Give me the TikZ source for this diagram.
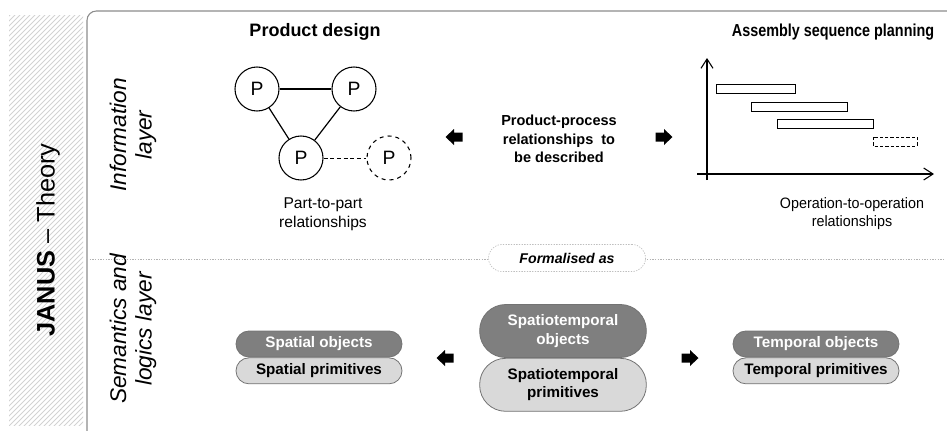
\documentclass[tikz,border=0pt]{standalone}
\usepackage{fontspec}
\setmainfont{Liberation Sans}
\usepackage{tikz}
\usetikzlibrary{positioning,arrows.meta}
\usepackage{xcolor}
\definecolor{framegrey}{HTML}{8C8C8C}
\definecolor{hatchgrey}{HTML}{D2D2D2}
\definecolor{objgrey}{HTML}{7F7F7F}
\definecolor{primgrey}{HTML}{D9D9D9}

\begin{document}
\begin{tikzpicture}[x=0.75pt,y=-0.75pt,>={Straight Barb[length=7pt,width=9pt]},
  heading/.style={font=\bfseries\fontsize{13.5}{16}\selectfont},
  plaintext/.style={align=center,font=\fontsize{11.7}{14}\selectfont},
  layer/.style={rotate=90,align=center,font=\itshape\fontsize{17}{19}\selectfont},
  part/.style={circle,draw,line width=0.8pt,minimum size=33pt,inner sep=0pt,
    font=\fontsize{14.5}{16}\selectfont},
  blockarr/.pic={\fill (-8.5,-4.5) -- (0,-4.5) -- (0,-8) -- (8.5,0) -- (0,8) -- (0,4.5) -- (-8.5,4.5) -- cycle;},
  pill/.style={draw=black!55,line width=0.6pt,minimum width=124.5pt,minimum height=19.5pt,
    rounded corners=9.7pt,inner sep=0pt,align=center,font=\bfseries\fontsize{11.4}{13.7}\selectfont},
  objpill/.style={pill,fill=objgrey,text=white},
  primpill/.style={pill,fill=primgrey},
  bigpill/.style={minimum width=125pt,minimum height=39.75pt,rounded corners=19.5pt}]
\useasboundingbox (0,0) rectangle (947,430);
\clip (0,0) rectangle (947,430);

% left band
\begin{scope}
\clip (9,15) rectangle (83,425);
\foreach \k in {-90,-85,...,430}
  \draw[hatchgrey,line width=0.7pt] (0,\k+90) -- (90,\k);
\end{scope}
\node[rotate=90,font=\fontsize{19}{22}\selectfont] (janus) at (48,240) {\textbf{JANUS} -- Theory};

% frame and separator
\draw[framegrey,line width=0.8pt,rounded corners=7pt] (960,11) -- (87,11) -- (87,445);
\draw[black!30,line width=0.4pt,dash pattern=on 1pt off 1pt] (87,259) -- (945,259);

\node[layer] (info) at (133,135) {Information\\layer};
\node[layer] (sem) at (133,329) {Semantics and\\logics layer};

% information layer
\node[heading] (pdes) at (315,32) {Product design};
\node[heading,font=\bfseries\fontsize{13}{15}\selectfont] (asp) at (833,32)
  {\scalebox{0.83}[1]{Assembly sequence planning}};

\node[part] (p1) at (257,89) {P};
\node[part] (p2) at (354,89) {P};
\node[part] (p3) at (301,158) {P};
\node[part,dashed] (p4) at (389,158) {P};
\draw[line width=0.9pt] (p1) -- (p2);
\draw[line width=0.9pt] (p1) -- (p3);
\draw[line width=0.9pt] (p2) -- (p3);
\draw[line width=0.7pt,dash pattern=on 3pt off 2pt] (p3) -- (p4);
\node[plaintext] (ptp) at (323,214) {Part-to-part\\relationships};

\node[align=center,font=\bfseries\fontsize{10.9}{14}\selectfont] (ppr) at (559,139)
  {Product-process\\relationships~ to\\be described};
\pic[rotate=180] (la) at (454,137) {blockarr};
\pic (ra) at (664,137) {blockarr};

\coordinate (yax) at (707,58);
\coordinate (xax) at (934,174);
\draw[line width=0.8pt,->] (707,180) -- (yax);
\draw[line width=0.8pt,->] (697,174) -- (xax);
\draw[line width=0.6pt] (716,84) rectangle (795,93);
\draw[line width=0.6pt] (751,102) rectangle (847,111);
\draw[line width=0.6pt] (777,119) rectangle (873,128);
\draw[line width=0.6pt,dash pattern=on 2.5pt off 1.5pt] (873,137) rectangle (917,146);
\node[plaintext,font=\fontsize{11.3}{13.5}\selectfont] (oto) at (852,214)
  {\scalebox{0.95}[1]{Operation-to-operation}\\\scalebox{0.95}[1]{relationships}};

% semantics and logics layer
\node[draw=black!25,line width=0.5pt,dash pattern=on 1pt off 1pt,fill=white,rounded corners=10pt,
  minimum width=117.75pt,minimum height=20.25pt,font=\bfseries\itshape\fontsize{10.6}{12}\selectfont]
  (form) at (567,258) {Formalised as};

\node[objpill] (sobj) at (319,344) {Spatial objects};
\node[primpill,below=0pt of sobj] (sprim) {Spatial primitives};
\node[objpill,bigpill] (stobj) at (563,331) {Spatiotemporal\\objects};
\node[primpill,bigpill,below=0pt of stobj] (stprim) {Spatiotemporal\\primitives};
\node[objpill] (tobj) at (816,344) {Temporal objects};
\node[primpill,below=0pt of tobj] (tprim) {Temporal primitives};
\pic[rotate=180] (lb) at (445,358) {blockarr};
\pic (rb) at (690,358) {blockarr};
\end{tikzpicture}
\end{document}
